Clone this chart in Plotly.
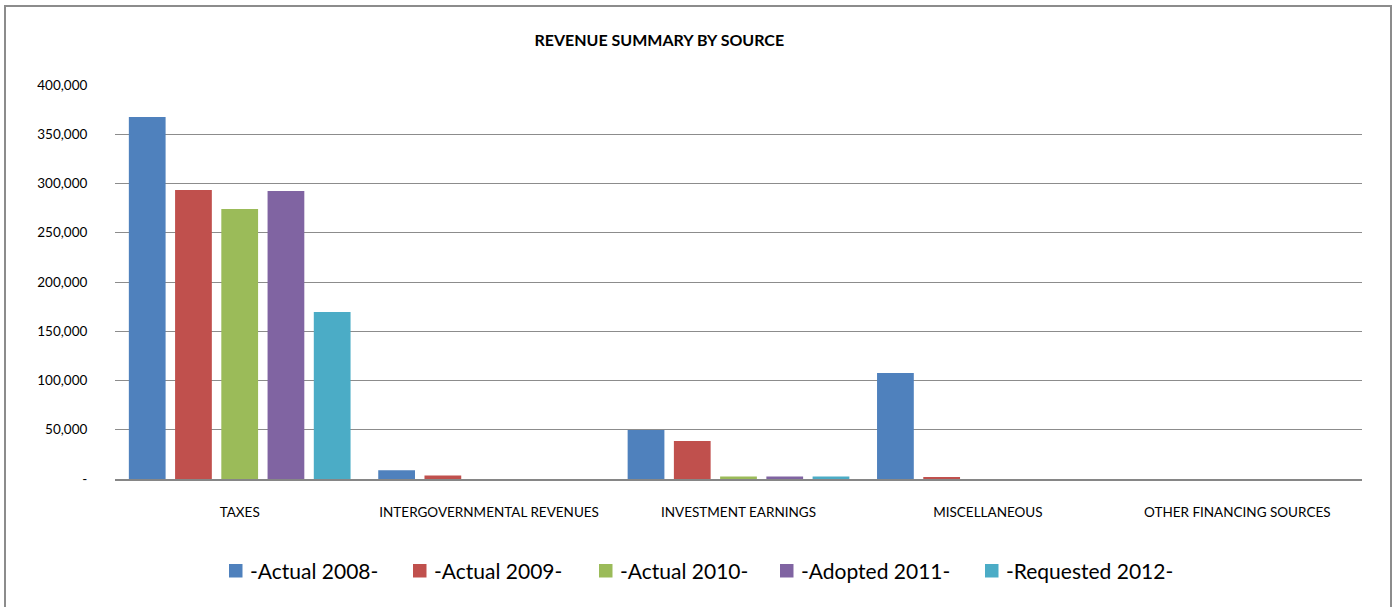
import plotly.graph_objects as go

categories = ["TAXES", "INTERGOVERNMENTAL REVENUES", "INVESTMENT EARNINGS", "MISCELLANEOUS", "OTHER FINANCING SOURCES"]
series_names = ["-Actual 2008-", "-Actual 2009-", "-Actual 2010-", "-Adopted 2011-", "-Requested 2012-"]
actual_2008 = [367500, 8900, 49700, 107500, 0]
actual_2009 = [293400, 3500, 38500, 2000, 0]
actual_2010 = [274000, 0, 2500, 0, 0]
adopted_2011 = [292300, 0, 2500, 0, 0]
requested_2012 = [169500, 0, 2500, 0, 0]
colors = ["#4F81BD", "#C0504D", "#9BBB59", "#8064A2", "#4BACC6"]
y_tickvals = [0, 50000, 100000, 150000, 200000, 250000, 300000, 350000, 400000]
y_ticktext = ["-", "50,000", "100,000", "150,000", "200,000", "250,000", "300,000", "350,000", "400,000"]

series = [actual_2008, actual_2009, actual_2010, adopted_2011, requested_2012]

FONT = "Lato, 'Open Sans', sans-serif"

# plot-area pixel geometry (for converting pixel positions of the legend/border to paper coords)
L, R, T, B = 115, 1362, 85, 479
PW, PH = R - L, B - T


def px(x):
    return (x - L) / PW


def py(y):
    return (B - y) / PH


fig = go.Figure()
for name, vals, c in zip(series_names, series, colors):
    fig.add_trace(go.Bar(x=categories, y=vals, name=name, showlegend=False,
                         marker=dict(color=c, line=dict(width=0))))

fig.update_layout(
    width=1396, height=607,
    margin=dict(l=L, r=1396 - R, t=T, b=607 - B),
    paper_bgcolor="white", plot_bgcolor="white",
    barmode="group", bargap=0.073, bargroupgap=0.205,
    font=dict(family=FONT, color="#000000", size=13),
    title=dict(text="<b>REVENUE SUMMARY BY SOURCE</b>", x=0.4365, xref="paper", xanchor="center",
               y=1 - 40/607, yanchor="middle", font=dict(size=16, family=FONT)),
    showlegend=False,
)
fig.update_xaxes(showline=True, linecolor="#868686", linewidth=2, showgrid=False,
                 ticks="outside", ticklen=20, tickcolor="rgba(0,0,0,0)",
                 tickfont=dict(size=13.5, family=FONT))
fig.update_yaxes(range=[0, 400000], tickvals=y_tickvals, ticktext=y_ticktext,
                 showgrid=True, gridcolor="#8C8C8C", gridwidth=1, zeroline=False,
                 showline=False, ticks="outside", ticklen=24, tickcolor="rgba(0,0,0,0)",
                 tickfont=dict(size=13.5, family=FONT))

# chart border
fig.add_shape(type="rect", xref="paper", yref="paper",
              x0=px(5), x1=px(1391), y0=py(615), y1=py(6),
              line=dict(color="#8C8C8C", width=2), fillcolor="rgba(0,0,0,0)", layer="below")

# legend (Excel-style: small square then label)
legend_square_x = [229, 413, 599, 780, 985]
for sx, name, c in zip(legend_square_x, series_names, colors):
    fig.add_shape(type="rect", xref="paper", yref="paper",
                  x0=px(sx), x1=px(sx + 13.5), y0=py(577.5), y1=py(564),
                  line=dict(width=0), fillcolor=c)
    fig.add_annotation(text=name, xref="paper", yref="paper", x=px(sx + 19), y=py(570.5),
                       xanchor="left", yanchor="middle", showarrow=False,
                       font=dict(size=21, family=FONT, color="#000000"))

fig.write_html("out.html", post_script="document.body.style.margin='0';",
               config={"displayModeBar": False})
